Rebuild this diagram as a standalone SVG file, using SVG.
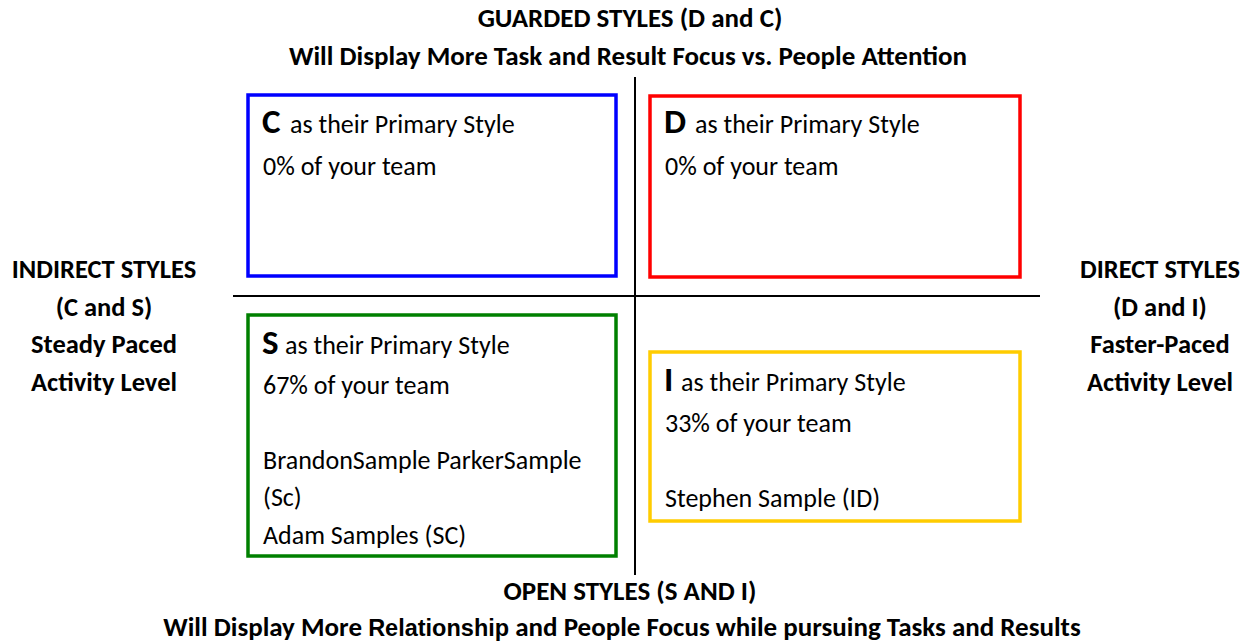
<svg xmlns="http://www.w3.org/2000/svg" width="1246" height="643" viewBox="0 0 1246 643">
  <style>
    text { font-family: Carlito, Lato, "Liberation Sans", sans-serif; fill: #000; }
    .hd { font-weight: bold; font-size: 27px; text-anchor: middle; }
    .side { font-weight: bold; font-size: 26.5px; text-anchor: middle; }
    .body { font-size: 26px; }
    .big { font-weight: bold; font-size: 35px; }
    .box { fill: #fff; stroke-width: 3.5; }
    .axis { stroke: #000; stroke-width: 2; }
  </style>
  <rect width="1246" height="643" fill="#fff"/>

  <!-- quadrant axes -->
  <g id="axes">
    <line class="axis" x1="635" y1="77" x2="635" y2="575"/>
    <line class="axis" x1="233" y1="296" x2="1040" y2="296"/>
  </g>

  <!-- headings around the grid -->
  <g id="top-label">
    <text class="hd" x="630" y="27">GUARDED STYLES (D and C)</text>
    <text class="hd" x="628" y="65">Will Display More Task and Result Focus vs. People Attention</text>
  </g>
  <g id="bottom-label">
    <text class="hd" x="630" y="600">OPEN STYLES (S AND I)</text>
    <text class="hd" x="622" y="636" font-size="26.2px">Will Display More <tspan font-family="'Liberation Sans', sans-serif" font-size="23.5px">Relationship</tspan> and People Focus while pursuing Tasks and Results</text>
  </g>
  <g id="left-label">
    <text class="side" x="104" y="278">INDIRECT STYLES</text>
    <text class="side" x="104" y="316">(C and S)</text>
    <text class="side" x="104" y="353">Steady Paced</text>
    <text class="side" x="104" y="391">Activity Level</text>
  </g>
  <g id="right-label">
    <text class="side" x="1160" y="278">DIRECT STYLES</text>
    <text class="side" x="1160" y="316">(D and I)</text>
    <text class="side" x="1160" y="353">Faster-Paced</text>
    <text class="side" x="1160" y="391">Activity Level</text>
  </g>

  <!-- C quadrant -->
  <g id="node-c">
    <rect class="box" x="248" y="95" width="368" height="181" stroke="#0000ff"/>
    <text x="262" y="133"><tspan class="big">C</tspan><tspan class="body" x="290">as their Primary Style</tspan></text>
    <text class="body" x="263" y="175">0% of your team</text>
  </g>

  <!-- D quadrant -->
  <g id="node-d">
    <rect class="box" x="650" y="96" width="370" height="181" stroke="#ff0000"/>
    <text x="664" y="133"><tspan class="big">D</tspan><tspan class="body" x="695">as their Primary Style</tspan></text>
    <text class="body" x="665" y="175">0% of your team</text>
  </g>

  <!-- S quadrant -->
  <g id="node-s">
    <rect class="box" x="248" y="315" width="368" height="241" stroke="#008000"/>
    <text x="262" y="354"><tspan class="big">S</tspan><tspan class="body" x="285">as their Primary Style</tspan></text>
    <text class="body" x="263" y="394">67% of your team</text>
    <text class="body" x="263" y="469">BrandonSample ParkerSample</text>
    <text class="body" x="263" y="506">(Sc)</text>
    <text class="body" x="263" y="544">Adam Samples (SC)</text>
  </g>

  <!-- I quadrant -->
  <g id="node-i">
    <rect class="box" x="650" y="352" width="370" height="169" stroke="#ffcc00"/>
    <text x="664" y="391"><tspan class="big">I</tspan><tspan class="body" x="681">as their Primary Style</tspan></text>
    <text class="body" x="665" y="432">33% of your team</text>
    <text class="body" x="665" y="507">Stephen Sample (ID)</text>
  </g>
</svg>
